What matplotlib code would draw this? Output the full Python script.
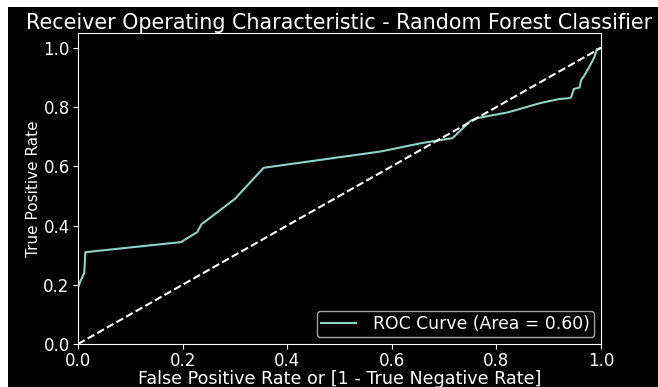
import matplotlib
matplotlib.use("Agg")
import matplotlib.pyplot as plt
from matplotlib.patches import Rectangle

# ROC points
fpr = [0.0, 0.0, 0.004, 0.012, 0.014, 0.197, 0.228, 0.236, 0.30, 0.355,
       0.579, 0.656, 0.716, 0.751, 0.764, 0.822, 0.885, 0.920, 0.939,
       0.943, 0.948, 0.959, 0.962, 0.968, 0.977, 0.987, 0.992, 1.0]
tpr = [0.0, 0.19, 0.21, 0.24, 0.31, 0.344, 0.378, 0.404, 0.49, 0.595,
       0.65, 0.678, 0.695, 0.754, 0.763, 0.782, 0.814, 0.827, 0.83,
       0.833, 0.861, 0.866, 0.891, 0.906, 0.934, 0.967, 0.995, 1.0]
auc = 0.60

plt.style.use("dark_background")
fig = plt.figure(figsize=(6.58, 3.87), dpi=100, facecolor="black")
# screenshot border: white strip on the left and top
fig.patches.append(Rectangle((0, 0), 8/658, 1, transform=fig.transFigure,
                             facecolor="white", edgecolor="none", zorder=10))
fig.patches.append(Rectangle((0, 1 - 7/387), 1, 7/387, transform=fig.transFigure,
                             facecolor="white", edgecolor="none", zorder=10))
ax = fig.add_axes([78/658, 43/387, 523/658, 311/387])

ax.plot(fpr, tpr, color="#8dd3c7", lw=1.5, label="ROC Curve (Area = %0.2f)" % auc)
ax.plot([0, 1], [0, 1], "w--", lw=1.5)
ax.set_xlim(0, 1)
ax.set_ylim(0, 1.05)
ax.set_xticks([0, 0.2, 0.4, 0.6, 0.8, 1.0])
ax.set_yticks([0, 0.2, 0.4, 0.6, 0.8, 1.0])
ax.tick_params(labelsize=12, pad=2.5)
ax.set_title("Receiver Operating Characteristic - Random Forest Classifier", fontsize=14.9, pad=2)
ax.set_xlabel("False Positive Rate or [1 - True Negative Rate]", fontsize=12.6, labelpad=0)
ax.set_ylabel("True Positive Rate", fontsize=11, labelpad=2)
ax.legend(loc="lower right", fontsize=12.4, borderpad=0.25, borderaxespad=0.4,
          handletextpad=1.0)

fig.savefig("out.png", dpi=100, facecolor="black")
